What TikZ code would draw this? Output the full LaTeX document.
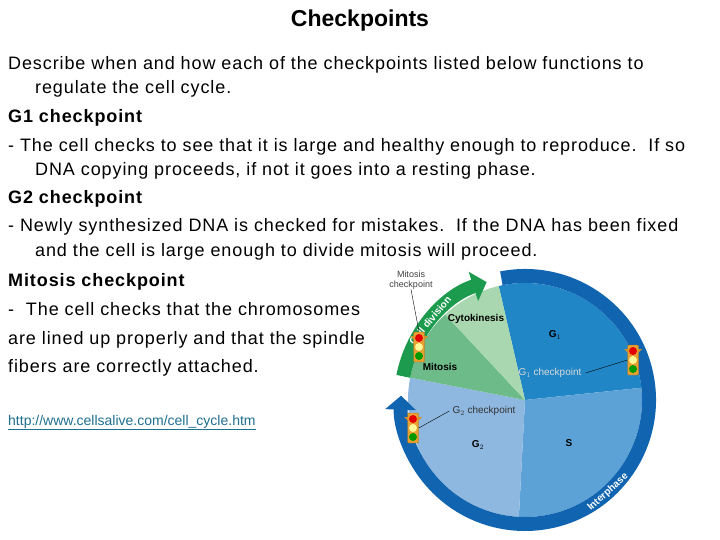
\documentclass[tikz,border=0pt]{standalone}
\usepackage{fontspec}
\setmainfont{Liberation Sans}
\usetikzlibrary{arrows.meta,calc}
\definecolor{cG1}{HTML}{2186C6}
\definecolor{cS}{HTML}{5CA2D6}
\definecolor{cGtwo}{HTML}{8EB8E0}
\definecolor{cMit}{HTML}{6CBB88}
\definecolor{cCyt}{HTML}{A9D8B0}
\definecolor{cRing}{HTML}{1064B0}
\definecolor{cGreen}{HTML}{1C9A4E}
\definecolor{cOrange}{HTML}{E8A030}
\definecolor{cLink}{HTML}{1F6F8F}
\begin{document}
\begin{tikzpicture}[x=1pt,y=1pt,
  body/.style={font=\fontsize{18}{20}\selectfont\addfontfeatures{LetterSpace=5}, anchor=base west, inner sep=0},
  lab/.style={font=\fontsize{10}{11}\selectfont\bfseries, inner sep=0},
  thin/.style={font=\fontsize{10}{11}\selectfont, inner sep=0}]
\useasboundingbox (0,0) rectangle (720,-540);
\fill[white] (0,0) rectangle (720,-540);
\node[font=\fontsize{23}{26}\selectfont\bfseries, inner sep=0] (title) at (360,-21) {Checkpoints};
\node[body] (l1) at (8,-70) {Describe when and how each of the checkpoints listed below functions to};
\node[body] (l2) at (35,-94) {regulate the cell cycle.};
\node[body] (l3) at (8,-123) {\textbf{G1 checkpoint}};
\node[body] (l4) at (8,-152) {- The cell checks to see that it is large and healthy enough to reproduce.\ \ If so};
\node[body] (l5) at (35,-176) {DNA copying proceeds, if not it goes into a resting phase.};
\node[body] (l6) at (8,-204) {\textbf{G2 checkpoint}};
\node[body] (l7) at (8,-232) {- Newly synthesized DNA is checked for mistakes.\ \ If the DNA has been fixed};
\node[body] (l8) at (35,-256) {and the cell is large enough to divide mitosis will proceed.};
\node[body] (l9) at (8,-286) {\textbf{Mitosis checkpoint}};
\node[body] (l10) at (8,-315) {-\ \ The cell checks that the chromosomes};
\node[body] (l11) at (8,-344) {are lined up properly and that the spindle};
\node[body] (l12) at (8,-372) {fibers are correctly attached.};
\node[body, font=\fontsize{14}{16}\selectfont, text=cLink] (url) at (8,-425) {\underline{http://www.cellsalive.com/cell\_cycle.htm}};
% cell cycle
\coordinate (c) at (525,-400);
\fill[cG1] (c) -- ++(103:117) arc[start angle=103,end angle=6,radius=117] -- cycle;
\fill[cS] (c) -- ++(6:117) arc[start angle=6,end angle=-93,radius=117] -- cycle;
\fill[cGtwo] (c) -- ++(-93:117) arc[start angle=-93,end angle=-191,radius=117] -- cycle;
\fill[cMit] (c) -- ++(169:117) arc[start angle=169,end angle=133,radius=117] -- cycle;
\fill[cCyt] (c) -- ++(133:117) arc[start angle=133,end angle=103,radius=117] -- cycle;
\draw[cRing, line width=14, -{Triangle[length=14,width=30]}] (c) ++(101:124) arc[start angle=101,end angle=-182,radius=124];
\draw[cGreen, line width=14, -{Triangle[length=14,width=30]}] (c) ++(169:124) arc[start angle=169,end angle=108,radius=124];
\node[lab, text=white, rotate=50] (cd) at ($(c)+(140:124)$) {Cell division};
\node[lab, text=white, rotate=42] (ip) at ($(c)+(-48:124)$) {Interphase};
\node[lab] (cyto) at (476,-319) {Cytokinesis};
\node[lab] (mito) at (440,-367) {Mitosis};
\node[lab] (g1) at (555,-335) {G$_1$};
\node[lab] (s) at (569,-443) {S};
\node[lab] (g2) at (478,-445) {G$_2$};
\node[thin, text=white!85!black] (g1c) at (550,-373) {G$_1$ checkpoint};
\node[thin, text=black!80] (g2c) at (484,-411) {G$_2$ checkpoint};
\node[thin, text=black!75, align=center, font=\fontsize{9}{10}\selectfont] (mc) at (411,-280) {Mitosis\\checkpoint};
% traffic lights
\foreach \n/\x/\y in {tm/419/-347, tg/633/-360, tt/413/-428}{
  \node[draw=cOrange!70!black, fill=cOrange, minimum width=11, minimum height=30, inner sep=0, rounded corners=1] (\n) at (\x,\y) {};
  \fill[cOrange!90!black] (\x-9,\y+11) -- (\x-5,\y+11) -- (\x-5,\y+7) -- cycle;
  \fill[cOrange!90!black] (\x+9,\y+11) -- (\x+5,\y+11) -- (\x+5,\y+7) -- cycle;
  \fill[red!90!black] (\x,\y+9) circle (4);
  \fill[yellow!40!white] (\x,\y) circle (4);
  \fill[green!60!black] (\x,\y-9) circle (4);
}
\draw[black] (mc.south) -- (tm.north);
\draw[black] (g1c.east) ++(4,0) -- (tg.west);
\draw[black] (g2c.west) ++(-3,0) -- (tt.east);
\end{tikzpicture}
\end{document}
